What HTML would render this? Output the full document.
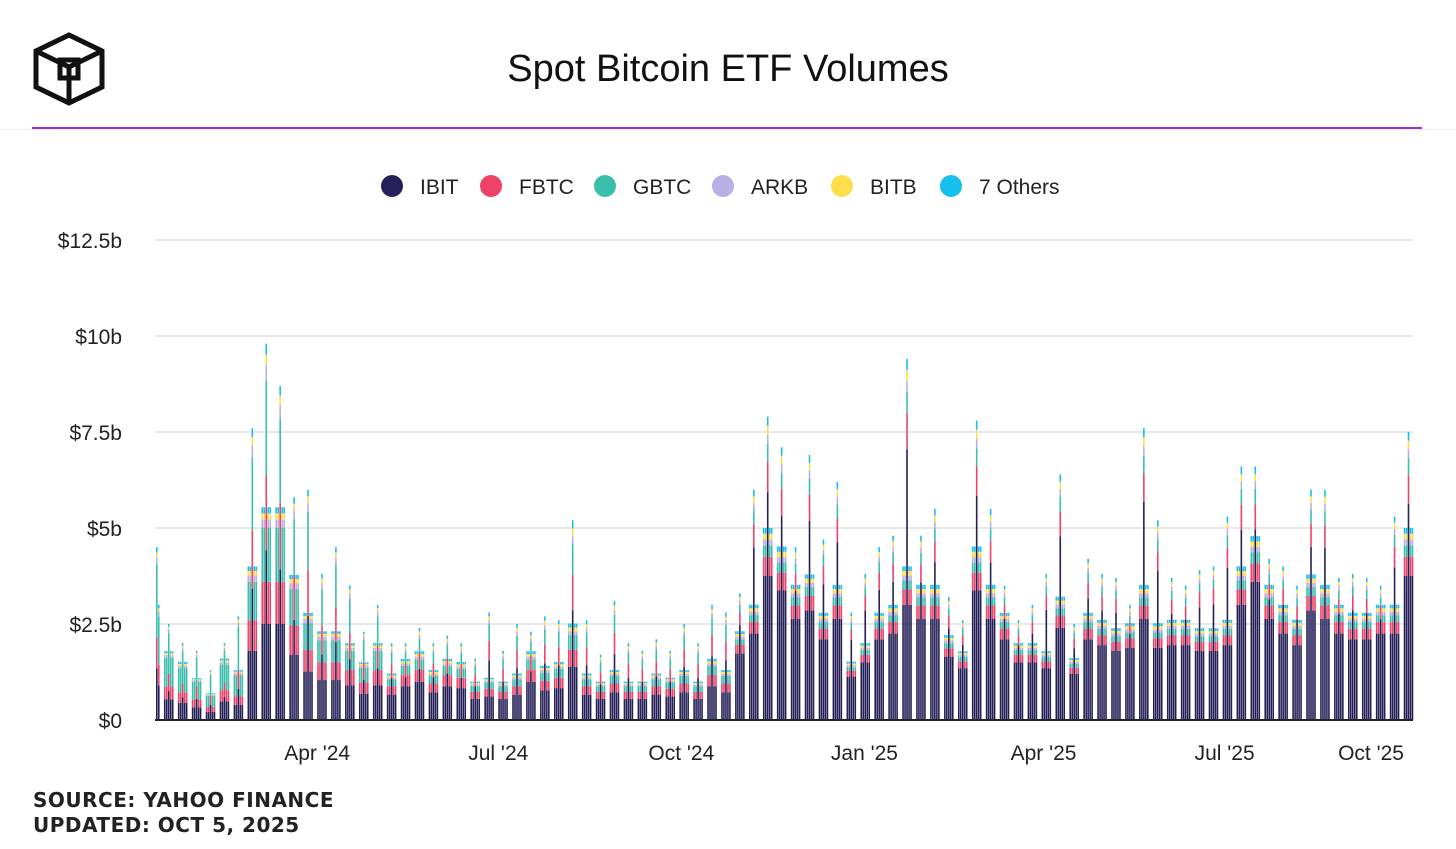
<!DOCTYPE html>
<html><head><meta charset="utf-8"><style>
body{margin:0;width:1456px;height:849px;background:#fff;font-family:"Liberation Sans",sans-serif;overflow:hidden;position:relative}
.title{position:absolute;left:0;width:1456px;top:48px;text-align:center;font-size:38px;color:#111}
.foot{position:absolute;left:33px;font-family:"DejaVu Sans",sans-serif;font-weight:bold;font-size:20px;color:#222;letter-spacing:0.5px}
</style></head><body>
<svg style="position:absolute;left:33px;top:32px" width="72" height="74" viewBox="0 0 72 74">
<g fill="none" stroke="#111" stroke-width="5" stroke-linejoin="miter">
<polygon points="36,3 69,19 69,55 36,71 3,55 3,19"/>
<polyline points="3,19 36,35 69,19"/><line x1="36" y1="35" x2="36" y2="71"/>
<rect x="27" y="28" width="18" height="18"/></g></svg>
<div class="title">Spot Bitcoin ETF Volumes</div>
<div style="position:absolute;left:32px;top:127px;width:1390px;height:2px;background:#9b2fe0"></div>
<div style="position:absolute;left:0;top:129px;width:1456px;height:1px;background:#eee"></div>
<svg id="chart" style="position:absolute;left:0;top:0" width="1456" height="849"></svg>
<div class="foot" style="top:788px">SOURCE: YAHOO FINANCE</div>
<div class="foot" style="top:813px">UPDATED: OCT 5, 2025</div>
<script>
const seriesNames=["IBIT","FBTC","GBTC","ARKB","BITB","7 Others"];
const colors=["#252058","#ee4266","#3bbfad","#b8b0e4","#fcdf4a","#15c0ec"];
const yTicks=[0,2.5,5,7.5,10,12.5];
const yTickLabels=["$0","$2.5b","$5b","$7.5b","$10b","$12.5b"];
const xTickLabels=["Apr '24","Jul '24","Oct '24","Jan '25","Apr '25","Jul '25","Oct '25"];
const xTickDays=[81,172,264,356,446,537,629];
const ibit=[.9,.54,.45,.33,.21,.48,.39,1.8,2.5,2.5,1.7,1.26,1.04,1.04,.9,.68,.9,
.66,.88,.99,.72,.88,.83,.55,.61,.55,.66,.99,.77,.83,1.38,.66,.55,.72,.55,.55,.66,.61,.72,.55,.88,.72,
1.73,2.25,3.75,3.38,2.63,2.85,2.1,2.63,1.13,1.5,2.1,2.25,3.0,2.63,2.63,1.65,1.35,3.38,2.63,2.1,1.5,1.5,1.35,2.4,1.2,2.1,1.95,1.8,1.88,2.63,1.88,1.95,1.95,1.8,1.8,1.95,3.0,3.6,2.63,2.25,1.95,2.85,2.63,2.25,2.1,2.1,2.25,2.25,3.75];
const fbtc=[.54,.32,.27,.2,.13,.29,.23,.8,1.1,1.1,.76,.56,.46,.46,.4,.3,.4,
.22,.29,.32,.23,.29,.27,.18,.2,.18,.22,.32,.25,.27,.45,.22,.18,.23,.18,.18,.22,.2,.23,.18,.29,.23,
.23,.3,.5,.45,.35,.38,.28,.35,.15,.2,.28,.3,.4,.35,.35,.22,.18,.45,.35,.28,.2,.2,.18,.32,.16,.28,.26,.24,.25,.35,.25,.26,.26,.24,.24,.26,.4,.48,.35,.3,.26,.38,.35,.3,.28,.28,.3,.3,.5];
const gbtc=[1.26,.76,.63,.46,.29,.67,.55,1.0,1.4,1.4,.95,.7,.58,.58,.5,.38,.5,
.18,.24,.27,.2,.24,.23,.15,.17,.15,.18,.27,.21,.23,.38,.18,.15,.2,.15,.15,.18,.17,.2,.15,.24,.2,
.14,.18,.3,.27,.21,.23,.17,.21,.09,.12,.17,.18,.24,.21,.21,.13,.11,.27,.21,.17,.12,.12,.11,.19,.1,.17,.16,.14,.15,.21,.15,.16,.16,.14,.14,.16,.24,.29,.21,.18,.16,.23,.21,.18,.17,.17,.18,.18,.3];
const arkb=[.12,.07,.06,.04,.03,.06,.05,.16,.22,.22,.15,.11,.09,.09,.08,.06,.08,
.05,.06,.07,.05,.06,.06,.04,.04,.04,.05,.07,.06,.06,.1,.05,.04,.05,.04,.04,.05,.04,.05,.04,.06,.05,
.07,.09,.15,.14,.11,.11,.08,.11,.05,.06,.08,.09,.12,.11,.11,.07,.05,.14,.11,.08,.06,.06,.05,.1,.05,.08,.08,.07,.08,.11,.08,.08,.08,.07,.07,.08,.12,.14,.11,.09,.08,.11,.11,.09,.08,.08,.09,.09,.15];
const bitb=[.09,.05,.05,.03,.02,.05,.04,.12,.16,.16,.11,.08,.07,.07,.06,.04,.06,
.05,.06,.07,.05,.06,.06,.04,.04,.04,.05,.07,.06,.06,.1,.05,.04,.05,.04,.04,.05,.04,.05,.04,.06,.05,
.07,.09,.15,.14,.11,.11,.08,.11,.05,.06,.08,.09,.12,.11,.11,.07,.05,.14,.11,.08,.06,.06,.05,.1,.05,.08,.08,.07,.08,.11,.08,.08,.08,.07,.07,.08,.12,.14,.11,.09,.08,.11,.11,.09,.08,.08,.09,.09,.15];
const others=[.09,.05,.05,.03,.02,.05,.04,.12,.16,.16,.11,.08,.07,.07,.06,.04,.06,
.05,.06,.07,.05,.06,.06,.04,.04,.04,.05,.07,.06,.06,.1,.05,.04,.05,.04,.04,.05,.04,.05,.04,.06,.05,
.07,.09,.15,.14,.11,.11,.08,.11,.05,.06,.08,.09,.12,.11,.11,.07,.05,.14,.11,.08,.06,.06,.05,.1,.05,.08,.08,.07,.08,.11,.08,.08,.08,.07,.07,.08,.12,.14,.11,.09,.08,.11,.11,.09,.08,.08,.09,.09,.15];
// tallest single-day total in each week ($b)
const weekPeak=[4.5,2.5,2.0,1.8,1.3,2.0,2.7,7.6,9.8,8.7,5.8,6.0,3.8,4.5,3.5,2.3,3.0,
2.0,2.0,2.4,2.0,2.2,2.0,1.6,2.8,1.8,2.5,2.3,2.7,2.6,5.2,2.6,1.7,3.1,2.0,1.8,2.1,1.8,2.5,2.0,3.0,2.8,
3.3,6.0,7.9,7.1,4.5,6.9,4.7,6.2,2.8,3.8,4.5,4.8,9.4,4.8,5.5,3.2,2.6,7.8,5.5,3.5,2.6,3.0,3.8,6.4,2.5,4.2,3.8,3.7,3.0,7.6,5.2,3.7,3.5,3.9,4.0,5.3,6.6,6.6,4.2,4.0,3.5,6.0,6.0,3.7,3.8,3.7,3.5,5.3,7.5];
const series=[ibit,fbtc,gbtc,arkb,bitb,others];
const NS="http://www.w3.org/2000/svg";
const svg=document.getElementById("chart");
const x0=156,pxPerDay=1.99,yBase=720,pxPerB=38.4;
const xScale=d=>x0+d*pxPerDay;
const yScale=v=>yBase-v*pxPerB;
function mk(tag,attrs){const e=document.createElementNS(NS,tag);for(const k in attrs)e.setAttribute(k,attrs[k]);svg.appendChild(e);return e;}
yTicks.forEach((t,i)=>{
  const g=mk("line",{x1:155,x2:1413,y1:yScale(t),y2:yScale(t),stroke:"#e8e8e8","stroke-width":2});
  
  
  const tx=mk("text",{x:122,y:yScale(t)+8,"text-anchor":"end","font-size":21,fill:"#222","font-family":"Liberation Sans, sans-serif"});
  tx.textContent=yTickLabels[i];
  
  
});
ibit.forEach((_,w)=>{
  const total=series.reduce((a,s)=>a+s[w],0);
  const pd=(w===0)?3:2;
  for(let d=0;d<5;d++){
    const day=7*w-3+d;
    if(day<0)continue;
    const f=(d===pd)?Math.max(1,weekPeak[w]/total):1;
    let acc=0;
    series.forEach((s,k)=>{
      const v=s[w]*f;
      const r=mk("rect",{x:xScale(day),y:yScale(acc+v),width:1.6,height:v*pxPerB,fill:colors[k]});
      
      
      acc+=v;
    });
  }
});
const ax=mk("line",{x1:155,x2:1413,y1:yBase,y2:yBase,stroke:"#222","stroke-width":2});


xTickLabels.forEach((l,i)=>{
  let x=xScale(xTickDays[i]);
  if(i===xTickLabels.length-1)x=1371;
  const t=mk("text",{x:x,y:760,"text-anchor":"middle","font-size":21,fill:"#222","font-family":"Liberation Sans, sans-serif"});
  t.textContent=l;
  
  
});
const legendX=[392,491,605,723,842,951];
seriesNames.forEach((n,i)=>{
  const c=mk("circle",{cx:legendX[i],cy:186,r:11,fill:colors[i]});
  
  
  const t=mk("text",{x:legendX[i]+28,y:194,"font-size":21,fill:"#222","font-family":"Liberation Sans, sans-serif"});
  t.textContent=n;
  
  
});
</script>
</body></html>
